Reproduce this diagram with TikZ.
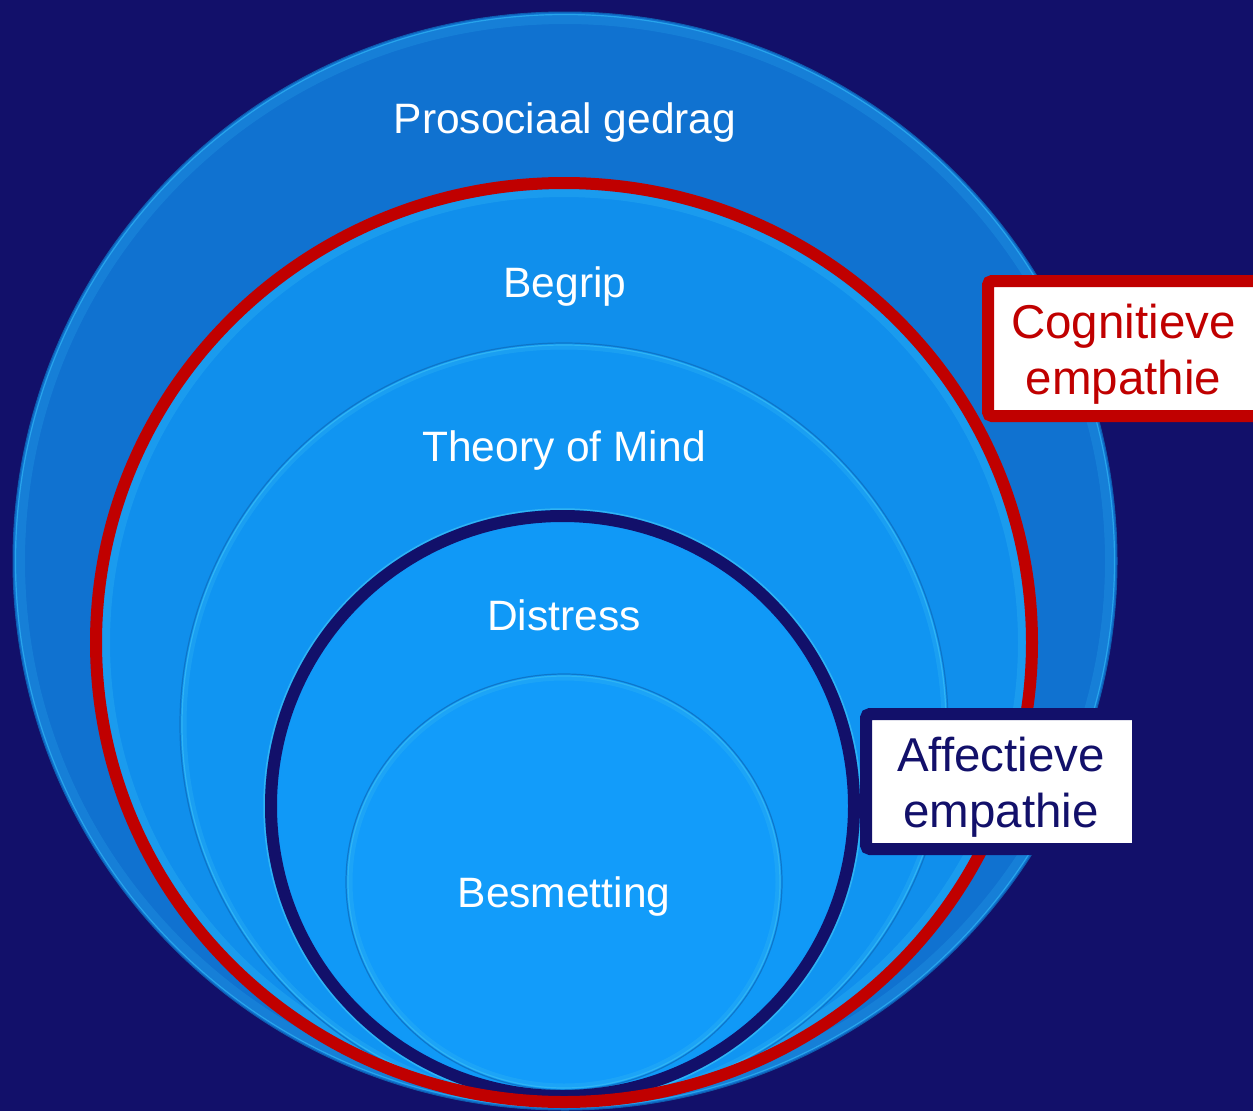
\documentclass[tikz,border=0pt]{standalone}
\usepackage{fontspec}
\setmainfont{Liberation Sans}
\definecolor{bg}{HTML}{12106A}
\definecolor{outerblue}{HTML}{1072D0}
\definecolor{begripblue}{HTML}{108FEC}
\definecolor{tomblue}{HTML}{1095F2}
\definecolor{distblue}{HTML}{1099F7}
\definecolor{besblue}{HTML}{129CFA}
\definecolor{rimcyan}{HTML}{2FB4F4}
\definecolor{rimdark}{HTML}{0D6FC0}
\definecolor{cogred}{HTML}{C00000}
\definecolor{affnavy}{HTML}{12106A}
\tikzset{
  circlabel/.style={text=white,font=\fontsize{42.5}{52}\selectfont,anchor=base,inner sep=0pt},
  boxtext/.style={font=\fontsize{47.5}{56}\selectfont,align=center,inner sep=0pt},
  labelbox/.style={fill=white,line width=12pt,rounded corners=4pt,minimum height=135pt,inner sep=0pt},
}
\begin{document}
\begin{tikzpicture}[x=1pt,y=-1pt]
\useasboundingbox (0,0) rectangle (1253,1111);
\fill[bg] (0,0) rectangle (1253,1111);
% outer circle: Prosociaal gedrag
\fill[outerblue] (565,561) ellipse [x radius=552, y radius=549];
\draw[rimcyan!70!outerblue,line width=10pt,opacity=.3] (565,561) ellipse [x radius=545, y radius=542];
\draw[rimcyan,line width=1.2pt,opacity=.7] (565,561) ellipse [x radius=549.5, y radius=546.5];
\draw[rimdark!80!bg,line width=1pt] (565,561) ellipse [x radius=552, y radius=549];
% Begrip (red circle fill)
\fill[begripblue] (564,642.5) ellipse [x radius=468, y radius=459.5];
\draw[rimcyan,line width=8pt,opacity=.35] (564,642.5) ellipse [x radius=458, y radius=449.5];
% Theory of Mind
\fill[tomblue] (564,724.5) ellipse [x radius=384, y radius=381.5];
\draw[rimcyan,line width=5pt,opacity=.35] (564,724.5) ellipse [x radius=380, y radius=377.5];
\draw[rimdark,line width=1.2pt,opacity=.8] (564,724.5) ellipse [x radius=384, y radius=381.5];
\draw[rimcyan,line width=1.2pt] (564,724.5) ellipse [x radius=382, y radius=379.5];
% Distress
\fill[distblue] (562.5,806) ellipse [x radius=291.5, y radius=290];
\draw[rimcyan,line width=1.5pt] (562.5,806) ellipse [x radius=298.5, y radius=297];
% Besmetting
\fill[besblue] (564,882) ellipse [x radius=218, y radius=208];
\draw[rimcyan,line width=5pt,opacity=.35] (564,882) ellipse [x radius=214, y radius=204];
\draw[rimdark,line width=1.2pt,opacity=.8] (564,882) ellipse [x radius=218, y radius=208];
\draw[rimcyan,line width=1.2pt] (564,882) ellipse [x radius=216, y radius=206];
% strokes
\draw[affnavy,line width=12pt] (562.5,806) ellipse [x radius=291.5, y radius=290];
\draw[cogred,line width=12pt] (564,642.5) ellipse [x radius=468, y radius=459.5];
% labels
\node[circlabel] (prosociaal) at (565,133) {Prosociaal gedrag};
\node[circlabel] (begrip) at (565,297) {Begrip};
\node[circlabel] (tom) at (564,461) {Theory of Mind};
\node[circlabel] (distress) at (564,630) {Distress};
\node[circlabel] (besmetting) at (564,907) {Besmetting};
% boxes
\node[labelbox,draw=cogred,minimum width=271pt] (cogbox) at (1123.5,348.5) {};
\node[boxtext,text=cogred] (cogtext) at (1123.5,354) {Cognitieve\\empathie};
\node[labelbox,draw=affnavy,minimum width=272pt] (affbox) at (1002,781.5) {};
\node[boxtext,text=affnavy] (afftext) at (1001,787) {Affectieve\\empathie};
\end{tikzpicture}
\end{document}
